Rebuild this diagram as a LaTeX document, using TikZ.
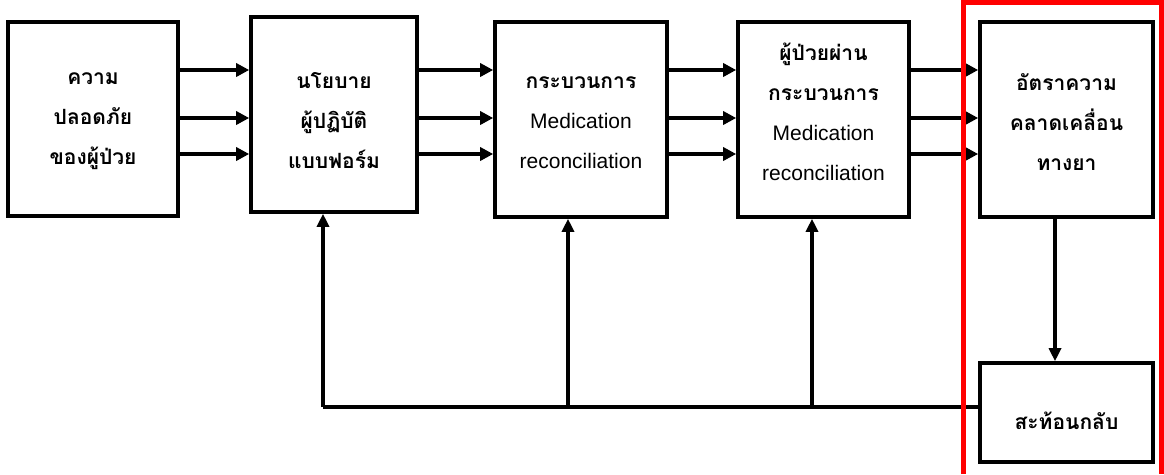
\documentclass[tikz,border=0pt]{standalone}
\usepackage{fontspec}
\setmainfont{Liberation Sans}
\newfontfamily\thai[Script=Thai]{Loma}
\usetikzlibrary{arrows.meta}
\tikzset{
  box/.style={draw=black, line width=3.6pt, fill=white, inner sep=0pt},
  txt/.style={inner sep=0pt, align=center, font=\fontsize{21}{40}\selectfont},
  arr/.style={line width=3.6pt, -{Triangle[length=13pt,width=13pt]}},
  varr/.style={line width=3.2pt, -{Triangle[length=13pt,width=12pt]}},
  fline/.style={line width=3.2pt},
  redframe/.style={draw=red, line width=5pt}
}
\newcommand{\thtxt}[1]{{\thai\bfseries #1}}
\begin{document}
\begin{tikzpicture}[x=1pt,y=-1pt]
\useasboundingbox (0,0) rectangle (1164,474);
\node[box, minimum width=170pt, minimum height=194pt] (b1) at (93,119) {};
\node[box, minimum width=166pt, minimum height=195pt] (b2) at (334,114.5) {};
\node[box, minimum width=172pt, minimum height=195pt] (b3) at (581,119.5) {};
\node[box, minimum width=171pt, minimum height=195pt] (b4) at (823.5,119.5) {};
\node[box, minimum width=173pt, minimum height=195pt] (b5) at (1066.5,119.5) {};
\node[box, minimum width=173pt, minimum height=99pt] (b6) at (1066.5,412.5) {};
\node[txt] (t1) at (93,121) {\thtxt{ความ}\\\thtxt{ปลอดภัย}\\\thtxt{ของผู้ป่วย}};
\node[txt] (t2) at (334,121) {\thtxt{นโยบาย}\\\thtxt{ผู้ปฏิบัติ}\\\thtxt{แบบฟอร์ม}};
\node[txt] (t3) at (581,123) {\thtxt{กระบวนการ}\\Medication\\reconciliation};
\node[txt] (t4) at (823.5,112) {\thtxt{ผู้ป่วยผ่าน}\\\thtxt{กระบวนการ}\\Medication\\reconciliation};
\node[txt] (t5) at (1066.5,122) {\thtxt{อัตราความ}\\\thtxt{คลาดเคลื่อน}\\\thtxt{ทางยา}};
\node[txt] (t6) at (1066.5,421) {\thtxt{สะท้อนกลับ}};
% horizontal arrows
\foreach \yy in {70,118,154}{
  \draw[arr] (b1.east |- 0,\yy) -- (b2.west |- 0,\yy);
  \draw[arr] (b2.east |- 0,\yy) -- (b3.west |- 0,\yy);
  \draw[arr] (b3.east |- 0,\yy) -- (b4.west |- 0,\yy);
  \draw[arr] (b4.east |- 0,\yy) -- (b5.west |- 0,\yy);
}
% down arrow
\coordinate (d1) at (1055,219);
\draw[varr] (d1) -- (d1 |- b6.north);
% feedback
\coordinate (f1) at (323,407);
\coordinate (f2) at (568,407);
\coordinate (f3) at (812,407);
\draw[fline, line join=round] (b6.west |- 0,407) -- (f1);
\draw[varr] (f1) -- (f1 |- b2.south);
\draw[varr] (f2) -- (f2 |- b3.south);
\draw[varr] (f3) -- (f3 |- b4.south);
% red frame
\draw[redframe] (963.5,474) -- (963.5,2.5) -- (1161.5,2.5) -- (1161.5,474);
\end{tikzpicture}
\end{document}
